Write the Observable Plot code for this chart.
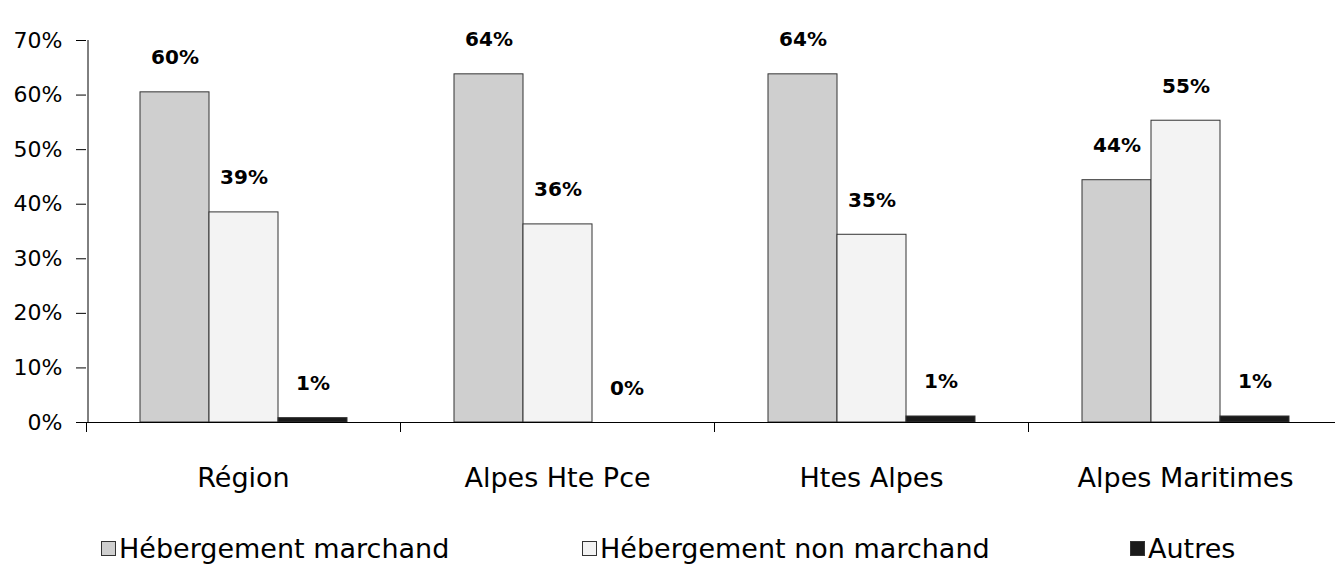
<!DOCTYPE html>
<html><head><meta charset="utf-8">
<script src="https://cdn.jsdelivr.net/npm/d3@7"></script>
<script src="https://cdn.jsdelivr.net/npm/@observablehq/plot@0.6"></script>
<style>
body{margin:0;background:#fff;font-family:"DejaVu Sans",sans-serif;}
#wrap{position:relative;width:1335px;height:565px;overflow:hidden}
#wrap svg{position:absolute;left:0;top:0}
.leg{position:absolute;top:535px;display:flex;align-items:center;font-size:27px;line-height:27px;color:#000;white-space:nowrap}
.sw{width:13px;height:13px;border:1px solid #333;margin-right:3px;flex:none}
</style></head><body><div id="wrap"></div>
<script>
const categories = ["Région", "Alpes Hte Pce", "Htes Alpes", "Alpes Maritimes"];
const series = ["Hébergement marchand", "Hébergement non marchand", "Autres"];
const marchand = [60.5, 63.8, 63.8, 44.4];
const nonMarchand = [38.5, 36.3, 34.4, 55.3];
const autres = [0.8, 0, 1.1, 1.1];
const marchandLabels = ["60%", "64%", "64%", "44%"];
const nonMarchandLabels = ["39%", "36%", "35%", "55%"];
const autresLabels = ["1%", "0%", "1%", "1%"];
const yTicks = [0, 10, 20, 30, 40, 50, 60, 70];
const colors = ["#cfcfcf", "#f3f3f3", "#1a1a1a"];

const seriesValues = [marchand, nonMarchand, autres];
const seriesLabels = [marchandLabels, nonMarchandLabels, autresLabels];
const rows = [];
categories.forEach((c, i) => series.forEach((s, j) => rows.push({category: c, series: s, value: seriesValues[j][i], label: seriesLabels[j][i]})));

const edgeOffset = 87; // half bar + outer padding inside a group
const groupHalf = 157;

const plot = Plot.plot({
  width: 1335, height: 520,
  marginTop: 40, marginBottom: 98, marginLeft: 86, marginRight: -7,
  style: {fontFamily: "DejaVu Sans", background: "transparent", color: "#000", overflow: "visible"},
  fx: {domain: categories, padding: 0, label: null},
  x: {domain: series, paddingInner: 0, paddingOuter: 0.743, axis: null},
  y: {domain: [0, 70], label: null},
  color: {domain: series, range: colors},
  marks: [
    Plot.barY(rows, {fx: "category", x: "series", y: "value", fill: "series", stroke: "#333", strokeWidth: 1}),
    Plot.ruleY([0], {stroke: "#000"}),
    Plot.ruleX([categories[0]], {fx: d => d, x: () => series[0], y1: () => 0, y2: () => 70, dx: -edgeOffset, stroke: "#000"}),
    Plot.axisY(yTicks, {tickSize: 10, tickPadding: 14, tickFormat: d => d + "%", fontSize: 22, label: null, stroke: "#000", fill: "#000"}),
    Plot.axisFx({anchor: "bottom", tickSize: 0, tickPadding: 45, fontSize: 27, label: null, fill: "#000"}),
    Plot.axisFx({anchor: "bottom", tickSize: 10, tickFormat: () => "", dx: -groupHalf, label: null, stroke: "#000"}),
    Plot.text(rows, {fx: "category", x: "series", y: "value", text: "label", lineAnchor: "bottom", dy: -28, fontSize: 20, fontWeight: "bold", fill: "#000"})
  ]
});
const wrap = document.getElementById("wrap");
wrap.appendChild(plot);
const lefts = [101, 582, 1130];
series.forEach((s, j) => {
  const d = document.createElement("div");
  d.className = "leg";
  d.style.left = lefts[j] + "px";
  const sw = document.createElement("span");
  sw.className = "sw";
  sw.style.background = colors[j];
  const t = document.createElement("span");
  t.textContent = s;
  d.appendChild(sw); d.appendChild(t);
  wrap.appendChild(d);
});
</script></body></html>
